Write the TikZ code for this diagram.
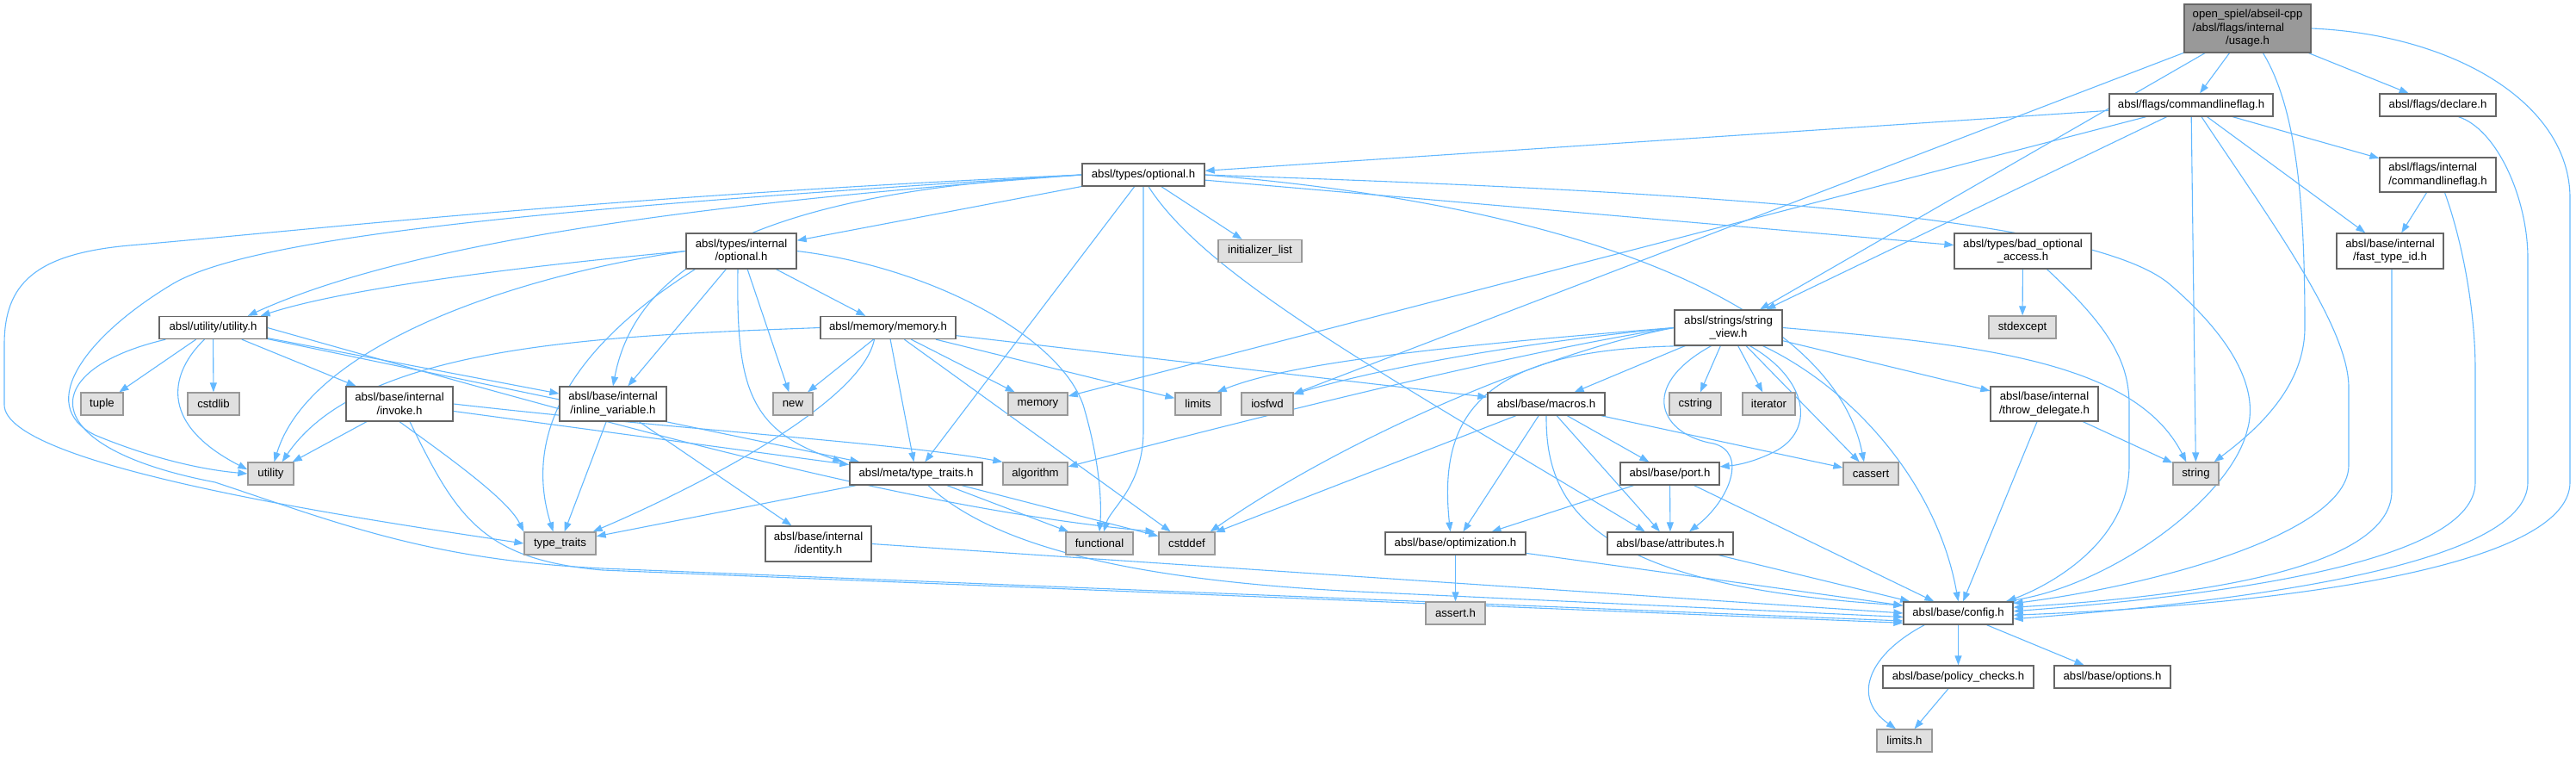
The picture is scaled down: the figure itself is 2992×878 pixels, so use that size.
\documentclass[tikz,border=0pt]{standalone}
\usepackage{fontspec}
\setmainfont{Liberation Sans}
\usepackage{xcolor}
\usepackage{tikz}
\usetikzlibrary{arrows.meta,backgrounds}
\definecolor{edgeblue}{HTML}{63B8FF}
\definecolor{boxline}{HTML}{666666}
\definecolor{sysfill}{HTML}{E0E0E0}
\definecolor{sysline}{HTML}{999999}
\definecolor{rootfill}{HTML}{999999}

\tikzset{
  hdr/.style={draw=boxline, fill=white, line width=1.3pt, inner sep=0pt, minimum height=26pt, align=center, font=\fontsize{13.2}{15.5}\selectfont},
  sys/.style={hdr, draw=sysline, fill=sysfill},
  rootbox/.style={hdr, fill=rootfill},
  dep/.style={draw=edgeblue, line width=1.1pt, -{Triangle[length=11pt,width=8pt]}}
}

\begin{document}
\begin{tikzpicture}[x=1pt, y=-1pt]
    \useasboundingbox (0,0) rectangle (2992,878);

    \node[rootbox, minimum width=147pt, minimum height=56pt] (usage) at (2610.5,33) {open\_spiel/abseil-cpp\\\rlap{/absl/flags/internal}\phantom{open\_spiel/abseil-cpp}\\/usage.h};
    \node[hdr, minimum width=190pt] (cflag) at (2545,122) {absl/flags/commandlineflag.h};
    \node[hdr, minimum width=135pt] (declare) at (2831.5,122) {absl/flags/declare.h};
    \node[hdr, minimum width=135pt, minimum height=40pt, align=left] (icflag) at (2831.5,203) {absl/flags/internal\\/commandlineflag.h};
    \node[hdr, minimum width=124pt, minimum height=41pt] (fastid) at (2776,291.5) {absl/base/internal\\/fast\_type\_id.h};
    \node[hdr, minimum width=142pt] (optional) at (1328,203) {absl/types/optional.h};
    \node[sys, minimum width=97pt] (initlist) at (1463.5,291.5) {initializer\_list};
    \node[hdr, minimum width=128pt, minimum height=41pt] (ioptional) at (861,291.5) {absl/types/internal\\/optional.h};
    \node[hdr, minimum width=159pt, minimum height=41pt] (badopt) at (2349.5,291.5) {absl/types/bad\_optional\\\_access.h};
    \node[sys, minimum width=78pt] (stdexcept) at (2349,380) {stdexcept};
    \node[hdr, minimum width=125pt, minimum height=41pt] (strview) at (2007.5,380.5) {absl/strings/string\\\_view.h};
    \node[hdr, minimum width=125pt] (utilh) at (247.5,380.5) {absl/utility/utility.h};
    \node[hdr, minimum width=157pt] (memoryh) at (1031.5,380.5) {absl/memory/memory.h};

    \node[sys, minimum width=49pt] (tuple) at (118.5,469) {tuple};
    \node[sys, minimum width=60pt] (cstdlib) at (248,469) {cstdlib};
    \node[hdr, minimum width=124pt, minimum height=40pt] (invoke) at (464,469) {absl/base/internal\\/invoke.h};
    \node[hdr, minimum width=124pt, minimum height=40pt] (inlinevar) at (712,469) {absl/base/internal\\/inline\_variable.h};
    \node[sys, minimum width=46pt] (new) at (921,469) {new};
    \node[sys, minimum width=69pt] (memory) at (1205.5,469) {memory};
    \node[sys, minimum width=53pt] (limits) at (1391.5,469) {limits};
    \node[sys, minimum width=60pt] (iosfwd) at (1472,469) {iosfwd};
    \node[hdr, minimum width=136pt] (macros) at (1796,469) {absl/base/macros.h};
    \node[sys, minimum width=60pt] (cstring) at (1969,469) {cstring};
    \node[sys, minimum width=61pt] (iterator) at (2054.5,469) {iterator};
    \node[hdr, minimum width=125pt, minimum height=40pt] (throwdel) at (2374.5,469) {absl/base/internal\\/throw\_delegate.h};

    \node[sys, minimum width=53pt] (utility) at (314.5,550) {utility};
    \node[hdr, minimum width=154pt] (metatt) at (1064,550) {absl/meta/type\_traits.h};
    \node[sys, minimum width=75pt] (algorithm) at (1202.5,550) {algorithm};
    \node[hdr, minimum width=115pt] (port) at (1939.5,550) {absl/base/port.h};
    \node[sys, minimum width=64pt] (cassert) at (2173,550) {cassert};
    \node[sys, minimum width=53pt] (string) at (2550.5,550) {string};

    \node[sys, minimum width=83pt] (typetraits) at (650.5,631) {type\_traits};
    \node[hdr, minimum width=123pt, minimum height=41pt] (identity) at (950.5,631.5) {absl/base/internal\\/identity.h};
    \node[sys, minimum width=78pt] (functional) at (1277,631) {functional};
    \node[sys, minimum width=65pt] (cstddef) at (1378.5,631) {cstddef};
    \node[hdr, minimum width=163pt] (optim) at (1690.5,631) {absl/base/optimization.h};
    \node[hdr, minimum width=146pt] (attrib) at (1940,631) {absl/base/attributes.h};

    \node[hdr, minimum width=127pt] (config) at (2274.5,712) {absl/base/config.h};
    \node[sys, minimum width=69pt] (asserth) at (1690.5,712) {assert.h};
    \node[hdr, minimum width=175pt] (policy) at (2274.5,786) {absl/base/policy\_checks.h};
    \node[hdr, minimum width=135pt] (options) at (2453.5,786) {absl/base/options.h};
    \node[sys, minimum width=64pt] (limitsh) at (2212,860) {limits.h};

    \begin{scope}[on background layer]
    % usage.h
    \draw[dep] (usage) -- (cflag);
    \draw[dep] (usage) -- (declare);
    \draw[dep] (usage) -- (strview);
    \draw[dep] (usage) -- (iosfwd);
    \draw[dep] ([xshift=18pt]usage.south) .. controls (2670,130) and (2677,250) .. (2677,380) .. controls (2677,450) and (2620,500) .. ([xshift=-6pt]string.north east);
    \draw[dep] (usage.east) .. controls (2850,40) and (2985,120) .. (2985,230) -- (2985,560) .. controls (2985,650) and (2700,700) .. (config.358);

    % commandlineflag.h
    \draw[dep] (cflag) -- (optional);
    \draw[dep] (cflag) -- (memory);
    \draw[dep] (cflag) -- (strview);
    \draw[dep] (cflag) -- (string);
    \draw[dep] (cflag) -- (fastid);
    \draw[dep] (cflag) -- (icflag);
    \draw[dep] ([xshift=12pt]cflag.south) .. controls (2640,260) and (2728,380) .. (2728,450) -- (2728,540) .. controls (2728,620) and (2500,680) .. (config.10);
    \draw[dep] (icflag) -- (fastid);
    \draw[dep] ([xshift=8pt]icflag.south) .. controls (2860,280) and (2875,360) .. (2875,430) -- (2875,560) .. controls (2875,650) and (2600,690) .. (config.2);
    \draw[dep] ([xshift=2pt]fastid.south) -- (2778,570) .. controls (2778,670) and (2500,695) .. (config.6);
    \draw[dep] ([xshift=24pt]declare.south) .. controls (2900,150) and (2936,230) .. (2936,300) -- (2936,560) .. controls (2936,650) and (2650,695) .. (config.354);

    % optional.h
    \draw[dep] (optional) -- (initlist);
    \draw[dep] (optional) -- (ioptional);
    \draw[dep] (optional) -- (badopt);
    \draw[dep] (optional) -- (metatt);
    \draw[dep] (optional.east) .. controls (1850,240) and (2130,360) .. ([xshift=-8pt]cassert.north);
    \draw[dep] (optional.east) .. controls (1900,220) and (2420,245) .. (2520,330) .. controls (2590,390) and (2625,450) .. (2610,500) .. controls (2590,580) and (2450,680) .. (config.14);
    \draw[dep] ([xshift=6pt]optional.south) .. controls (1400,320) and (1600,430) .. (attrib.155);
    \draw[dep] (optional.south) -- (1328,500) .. controls (1328,565) and (1290,590) .. (functional.70);
    \draw[dep] (optional.west) .. controls (900,222) and (740,300) .. (inlinevar.north);
    \draw[dep] (optional.west) .. controls (900,230) and (500,270) .. ([xshift=-23pt]utilh.north east);
    \draw[dep] (optional.west) .. controls (700,238) and (300,270) .. (200,330) .. controls (100,390) and (40,470) .. (110,505) .. controls (170,530) and (230,545) .. (utility.west);
    \draw[dep] (optional.west) .. controls (700,228) and (350,268) .. (150,285) .. controls (40,295) and (5,330) .. (5,400) -- (5,470) .. controls (5,540) and (400,600) .. (typetraits.west);

    % types/internal/optional.h
    \draw[dep] (ioptional.west) .. controls (600,310) and (400,335) .. ([xshift=-8pt]utilh.north east);
    \draw[dep] (ioptional.west) .. controls (600,320) and (360,400) .. ([xshift=4pt]utility.north);
    \draw[dep] ([xshift=11pt]ioptional.south west) .. controls (700,380) and (600,480) .. ([xshift=-8pt]typetraits.north);
    \draw[dep] (ioptional) -- (inlinevar);
    \draw[dep] ([xshift=-4pt]ioptional.south) .. controls (855,450) and (870,500) .. ([xshift=-8pt]metatt.north west);
    \draw[dep] (ioptional) -- (new);
    \draw[dep] (ioptional) -- (memoryh);
    \draw[dep] (ioptional.east) .. controls (1080,310) and (1230,390) .. (1258,470) .. controls (1276,530) and (1280,580) .. (functional.north);

    % bad_optional_access.h
    \draw[dep] (badopt) -- (stdexcept);
    \draw[dep] ([xshift=28pt]badopt.south) .. controls (2450,380) and (2473,420) .. (2473,470) -- (2473,540) .. controls (2473,630) and (2380,680) .. ([xshift=-8pt]config.north east);

    % string_view.h
    \draw[dep] (strview.west) .. controls (1700,400) and (1500,420) .. ([xshift=-5pt]limits.north east);
    \draw[dep] (strview.west) .. controls (1700,405) and (1560,440) .. (iosfwd.20);
    \draw[dep] (strview.west) .. controls (1750,410) and (1400,500) .. (algorithm.12);
    \draw[dep] (strview.west) .. controls (1790,410) and (1560,510) .. ([xshift=-6pt]cstddef.north east);
    \draw[dep] ([xshift=-30pt]strview.south) .. controls (1720,400) and (1670,480) .. ([xshift=-6pt]optim.north);
    \draw[dep] (strview) -- (macros);
    \draw[dep] (strview) -- (cstring);
    \draw[dep] (strview) -- (iterator);
    \draw[dep] ([xshift=-20pt]strview.south) .. controls (1900,450) and (1930,505) .. (1990,515) .. controls (2030,525) and (2010,580) .. ([xshift=22pt]attrib.north);
    \draw[dep] ([xshift=25pt]strview.south) .. controls (2100,440) and (2110,500) .. (2060,525) .. controls (2040,535) and (2020,540) .. (port.8);
    \draw[dep] (strview) -- (cassert);
    \draw[dep] ([xshift=40pt]strview.south) .. controls (2150,450) and (2250,560) .. (config.north);
    \draw[dep] (strview) -- (throwdel);
    \draw[dep] (strview.east) .. controls (2300,400) and (2480,420) .. ([xshift=16pt]string.north west);

    % macros.h and base headers
    \draw[dep] (macros) -- (cstddef);
    \draw[dep] (macros) -- (optim);
    \draw[dep] (macros) -- (port);
    \draw[dep] (macros) -- (attrib);
    \draw[dep] (macros) -- (cassert);
    \draw[dep] (macros.south) .. controls (1795,590) and (1850,680) .. (config.172);
    \draw[dep] (port) -- (optim);
    \draw[dep] (port) -- (attrib);
    \draw[dep] (port) -- (config);
    \draw[dep] (optim) -- (asserth);
    \draw[dep] (optim) -- (config);
    \draw[dep] (attrib) -- (config);
    \draw[dep] (throwdel) -- (string);
    \draw[dep] (throwdel) -- (config);
    \draw[dep] ([xshift=25pt]config.south west) .. controls (2170,760) and (2150,810) .. ([xshift=-10pt]limitsh.north);
    \draw[dep] (config) -- (policy);
    \draw[dep] (config) -- (options);
    \draw[dep] (policy) -- (limitsh);
    \draw[dep] (identity.east) -- (config.180);

    % meta/type_traits.h
    \draw[dep] (metatt) -- (typetraits);
    \draw[dep] (metatt) -- (functional);
    \draw[dep] (metatt) -- (cstddef);
    \draw[dep] ([xshift=14pt]metatt.south) .. controls (1150,630) and (1300,675) .. (1600,688) -- (config.184);

    % memory.h
    \draw[dep] (memoryh) -- (new);
    \draw[dep] (memoryh) -- (memory);
    \draw[dep] (memoryh) -- (limits);
    \draw[dep] (memoryh) -- (cstddef);
    \draw[dep] (memoryh) -- (metatt);
    \draw[dep] (memoryh) -- (macros);
    \draw[dep] ([xshift=-16pt]memoryh.south) .. controls (1000,470) and (800,570) .. ([xshift=-4pt]typetraits.north east);
    \draw[dep] (memoryh.west) .. controls (700,390) and (420,400) .. ([xshift=-14pt]utility.north east);

    % utility.h
    \draw[dep] (utilh) -- (tuple);
    \draw[dep] (utilh) -- (cstdlib);
    \draw[dep] ([xshift=-10pt]utilh.south) .. controls (200,430) and (180,490) .. (utility.170);
    \draw[dep] (utilh) -- (invoke);
    \draw[dep] (utilh) -- (inlinevar);
    \draw[dep] (utilh) -- (metatt);
    \draw[dep] (utilh.east) .. controls (700,490) and (1050,590) .. ([xshift=-4pt]cstddef.north west);
    \draw[dep] ([xshift=8pt]utilh.south west) .. controls (40,430) and (40,520) .. (250,560) .. controls (400,610) and (500,650) .. (700,660) -- (config.188);

    % invoke.h and inline_variable.h
    \draw[dep] (invoke) -- (utility);
    \draw[dep] (invoke) -- (metatt);
    \draw[dep] (invoke.south) .. controls (520,530) and (590,580) .. (typetraits.north west);
    \draw[dep] ([xshift=12pt]invoke.south) .. controls (530,600) and (560,650) .. (700,662) -- (config.190);
    \draw[dep] (invoke.east) .. controls (800,500) and (1050,515) .. (algorithm.north west);
    \draw[dep] (inlinevar) -- (typetraits);
    \draw[dep] (inlinevar) -- (identity);
    \end{scope}
\end{tikzpicture}
\end{document}
